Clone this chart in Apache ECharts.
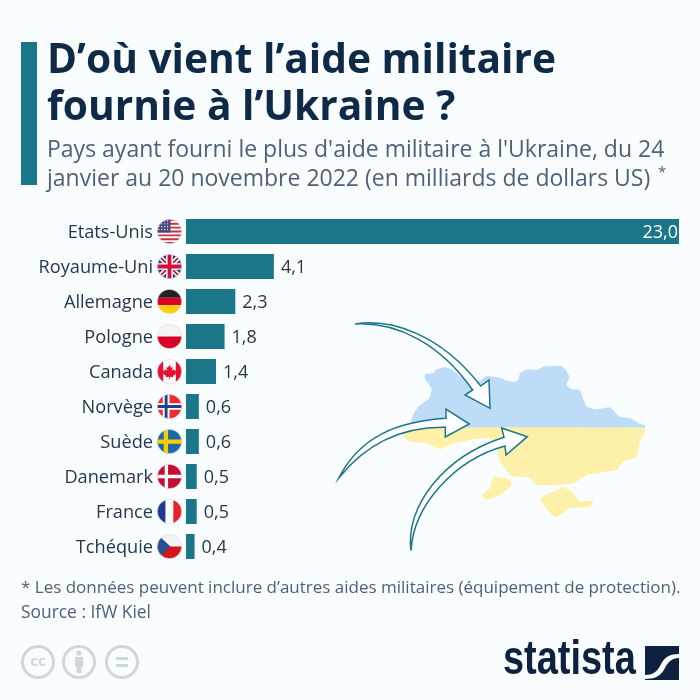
<!DOCTYPE html>
<html>
<head>
<meta charset="utf-8">
<script src="https://cdn.jsdelivr.net/npm/echarts@6/dist/echarts.min.js"></script>
<style>
html, body { margin: 0; padding: 0; background: #f9fdff; }
#main { width: 700px; height: 700px; }
</style>
</head>
<body>
<div id="main"></div>
<script>
var categories = ['Etats-Unis', 'Royaume-Uni', 'Allemagne', 'Pologne', 'Canada', 'Norvège', 'Suède', 'Danemark', 'France', 'Tchéquie'];
var values = [23.0, 4.1, 2.3, 1.8, 1.4, 0.6, 0.6, 0.5, 0.5, 0.4];
var flagCodes = ['us', 'uk', 'de', 'pl', 'ca', 'no', 'se', 'dk', 'fr', 'cz'];

var titleText = 'D’où vient l’aide militaire\nfournie à l’Ukraine ?';
var subtitleText = "Pays ayant fourni le plus d'aide militaire à l'Ukraine, du 24\njanvier au 20 novembre 2022 (en milliards de dollars US)";
var noteText = '* Les données peuvent inclure d’autres aides militaires (équipement de protection).';
var sourceText = 'Source : IfW Kiel';

var fontName = '"Open Sans"';
var navy = '#0f2a47';
var grey = '#4d6178';
var teal = '#1c7689';

function rect(x, y, w, h, c) {
    return '<rect x="' + x + '" y="' + y + '" width="' + w + '" height="' + h + '" fill="' + c + '"/>';
}

var usStripes = '';
for (var s = 0; s < 7; s++) {
    usStripes += rect(0, s * 4, 26, 2, '#c8313e');
}
var usStars = '';
for (var sy = 2; sy < 13; sy += 3) {
    for (var sx = 2; sx < 13; sx += 3) {
        usStars += '<circle cx="' + sx + '" cy="' + sy + '" r="0.7" fill="#fff"/>';
    }
}

var flagShapes = {
    us: rect(0, 0, 26, 26, '#fff') + usStripes + rect(0, 0, 14, 14, '#46467f') + usStars,
    uk: rect(0, 0, 26, 26, '#1f3f8f') +
        '<path d="M0 0L26 26M26 0L0 26" stroke="#fff" stroke-width="5"/>' +
        '<path d="M0 0L26 26M26 0L0 26" stroke="#d0103a" stroke-width="1.8"/>' +
        rect(9.5, 0, 7, 26, '#fff') + rect(0, 9.5, 26, 7, '#fff') +
        rect(11, 0, 4, 26, '#d0103a') + rect(0, 11, 26, 4, '#d0103a'),
    de: rect(0, 0, 26, 9, '#222') + rect(0, 9, 26, 8, '#d80027') + rect(0, 17, 26, 9, '#ffd000'),
    pl: rect(0, 0, 26, 13, '#f4f4f4') + rect(0, 13, 26, 13, '#d80027'),
    ca: rect(0, 0, 26, 26, '#fff') + rect(0, 0, 6.5, 26, '#e8112d') + rect(19.5, 0, 6.5, 26, '#e8112d') +
        '<path d="M13 6L14.6 9L16.4 8.2L15.6 12.2L17.6 10.6L18.4 12.2L20 12L19.4 14.2L20 15L16.6 17.6L17 19L13.4 18.4V21H12.6V18.4L9 19L9.4 17.6L6 15L6.6 14.2L6 12L7.6 12.2L8.4 10.6L10.4 12.2L9.6 8.2L11.4 9Z" fill="#e8112d"/>',
    no: rect(0, 0, 26, 26, '#ef2b2d') + rect(6, 0, 7, 26, '#fff') + rect(0, 9.5, 26, 7, '#fff') +
        rect(8, 0, 3, 26, '#1f3f8f') + rect(0, 11.5, 26, 3, '#1f3f8f'),
    se: rect(0, 0, 26, 26, '#1a6aa8') + rect(7, 0, 4.5, 26, '#fecc00') + rect(0, 10.8, 26, 4.5, '#fecc00'),
    dk: rect(0, 0, 26, 26, '#c60c30') + rect(8, 0, 3.5, 26, '#fff') + rect(0, 11.2, 26, 3.5, '#fff'),
    fr: rect(0, 0, 9, 26, '#1f3a93') + rect(9, 0, 8, 26, '#fff') + rect(17, 0, 9, 26, '#e8202a'),
    cz: rect(0, 0, 26, 13, '#f4f4f4') + rect(0, 13, 26, 13, '#d7141a') + '<path d="M0 0L14 13L0 26Z" fill="#24508c"/>'
};

function flagImage(code) {
    var svg = '<svg xmlns="http://www.w3.org/2000/svg" width="52" height="52" viewBox="0 0 26 26">' +
        '<defs><clipPath id="c"><circle cx="13" cy="13" r="12.6"/></clipPath></defs>' +
        '<g clip-path="url(#c)">' + flagShapes[code] + '</g>' +
        '<circle cx="13" cy="13" r="12.6" fill="none" stroke="#cfd6dc" stroke-width="0.6"/></svg>';
    return 'data:image/svg+xml;charset=utf-8,' + encodeURIComponent(svg);
}

var axisRich = {
    name: { fontFamily: fontName, fontSize: 18.2, color: '#25384f', padding: [3, 4, 0, 0] }
};
flagCodes.forEach(function (code) {
    axisRich[code] = { width: 25, height: 25, backgroundColor: { image: flagImage(code) } };
});

var barData = values.map(function (v, i) {
    if (i == 0) {
        return { value: v, label: { position: 'insideRight', color: '#fff', distance: 1 } };
    }
    return v;
});

// Ukraine and arrows are traced in a 3x box, the group scales them back
var mapNorth = [[243, 335], [250, 312], [265, 290], [280, 278], [298, 265], [305, 240], [298, 225], [285, 208], [285, 193], [310, 190], [320, 178], [345, 172], [365, 178], [385, 195], [410, 210], [445, 215], [470, 198], [510, 203], [530, 212], [555, 215], [565, 210], [570, 190], [590, 178], [620, 180], [640, 170], [665, 168], [695, 168], [708, 180], [718, 200], [710, 225], [725, 238], [750, 240], [758, 262], [770, 290], [800, 298], [840, 292], [868, 320], [900, 325], [930, 342], [945, 345], [945, 353], [245, 353]];
var mapSouth = [[232, 353], [945, 353], [945, 365], [930, 395], [920, 440], [880, 455], [860, 480], [800, 490], [770, 495], [730, 520], [680, 525], [620, 525], [598, 503], [545, 498], [520, 470], [505, 440], [500, 400], [480, 385], [450, 385], [410, 392], [370, 400], [330, 418], [290, 400], [240, 395], [220, 378]];
var mapOdesa = [[490, 500], [540, 510], [545, 525], [510, 555], [470, 570], [455, 555], [480, 535]];
var mapCrimea = [[630, 565], [680, 540], [700, 530], [730, 550], [750, 575], [790, 572], [780, 590], [720, 595], [680, 622], [660, 610]];

var arrowPaths = [
    'M75 42C180 25 330 70 452 228L477 210L480 295L405 255L428 240C330 100 200 35 75 42Z',
    'M27 503C90 380 200 335 348 325L348 297L418 342L346 381L346 352C220 350 110 400 27 503Z',
    'M243 722C225 590 340 440 522 382L515 354L592 380L528 435L525 408C370 450 250 590 243 722Z'
];

var logoPath = 'M645 646L679 646L679 654C668 654 664 658 660 666C657 672 652 675 645 675ZM679 658L679 680L645 680L645 679C655 679 661 676 665 668C668 662 672 658 679 658Z';

// the graphic component only knows registered shapes, so give it the svg paths
arrowPaths.forEach(function (p, i) {
    echarts.graphic.registerShape('arrow' + i, echarts.graphic.extendPath(p));
});
echarts.graphic.registerShape('statistaMark', echarts.graphic.extendPath(logoPath));

function mapPolygon(points, color) {
    return { type: 'polygon', shape: { points: points, smooth: 0.1 }, style: { fill: color } };
}

var mapChildren = [
    mapPolygon(mapNorth, '#bcdcf8'),
    mapPolygon(mapSouth, '#fdf0a8'),
    mapPolygon(mapOdesa, '#fdf0a8'),
    mapPolygon(mapCrimea, '#fdf0a8')
];
arrowPaths.forEach(function (p, i) {
    mapChildren.push({
        type: 'arrow' + i,
        style: { fill: '#fff', stroke: teal, lineWidth: 4.5 }
    });
});

function ccCircle(cx, extra) {
    return [{
        type: 'circle',
        shape: { cx: cx, cy: 662, r: 15.5 },
        style: { fill: 'none', stroke: '#cdd7df', lineWidth: 3 }
    }].concat(extra);
}

var footerIcons = []
    .concat(ccCircle(38, [{
        type: 'text', x: 38, y: 662,
        style: { text: 'cc', fontFamily: fontName, fontWeight: 'bold', fontSize: 15, fill: '#cdd7df', align: 'center', verticalAlign: 'middle' }
    }]))
    .concat(ccCircle(79, [
        { type: 'circle', shape: { cx: 79, cy: 653, r: 2.6 }, style: { fill: '#cdd7df' } },
        { type: 'rect', shape: { x: 75, y: 657, width: 8, height: 10 }, style: { fill: '#cdd7df' } },
        { type: 'rect', shape: { x: 76.5, y: 667, width: 5, height: 6 }, style: { fill: '#cdd7df' } }
    ]))
    .concat(ccCircle(122, [
        { type: 'rect', shape: { x: 116, y: 657, width: 12, height: 3 }, style: { fill: '#cdd7df' } },
        { type: 'rect', shape: { x: 116, y: 664, width: 12, height: 3 }, style: { fill: '#cdd7df' } }
    ]));

var myChart = echarts.init(document.getElementById('main'), null, { renderer: 'canvas' });

var option = {
    backgroundColor: '#f9fdff',
    animation: false,
    grid: { left: 186, right: 21, top: 214, bottom: 136 },
    xAxis: { type: 'value', min: 0, max: 23, show: false },
    yAxis: {
        type: 'category',
        inverse: true,
        data: categories,
        axisLine: { show: false },
        axisTick: { show: false },
        axisLabel: {
            margin: 4,
            interval: 0,
            formatter: function (name, i) {
                return '{name|' + name + '}{' + flagCodes[i] + '|}';
            },
            rich: axisRich
        }
    },
    series: [
        {
            type: 'bar',
            data: barData,
            barWidth: 25,
            itemStyle: { color: teal },
            label: {
                show: true,
                position: 'right',
                distance: 7,
                offset: [0, 1],
                fontFamily: fontName,
                fontSize: 18,
                color: '#25384f',
                formatter: function (p) {
                    return p.value.toFixed(1).replace('.', ',');
                }
            }
        }
    ],
    graphic: [
        { type: 'rect', shape: { x: 21, y: 42, width: 16, height: 143 }, style: { fill: teal } },
        {
            type: 'text', x: 47, y: 38,
            style: { text: titleText, fontFamily: fontName, fontWeight: 'bold', fontSize: 40.7, lineHeight: 47, fill: navy }
        },
        {
            type: 'text', x: 47, y: 136,
            style: { text: subtitleText, fontFamily: fontName, fontSize: 23, lineHeight: 29, fill: grey }
        },
        {
            type: 'text', x: 658, y: 165,
            style: { text: '*', fontFamily: fontName, fontSize: 15, fill: grey }
        },
        { type: 'group', x: 330, y: 310, scaleX: 1 / 3, scaleY: 1 / 3, children: mapChildren },
        {
            type: 'text', x: 21, y: 580,
            style: { text: noteText, fontFamily: fontName, fontSize: 17, fill: grey }
        },
        {
            type: 'text', x: 21, y: 605,
            style: { text: sourceText, fontFamily: fontName, fontSize: 17.4, fill: grey }
        },
        { type: 'group', children: footerIcons },
        {
            type: 'text', x: 503, y: 637, scaleX: 0.79,
            style: { text: 'statista', fontFamily: '"Liberation Sans"', fontWeight: 'bold', fontSize: 48, fill: '#0e2240' }
        },
        { type: 'statistaMark', style: { fill: '#0e2240' } }
    ]
};

myChart.setOption(option);
</script>
</body>
</html>
